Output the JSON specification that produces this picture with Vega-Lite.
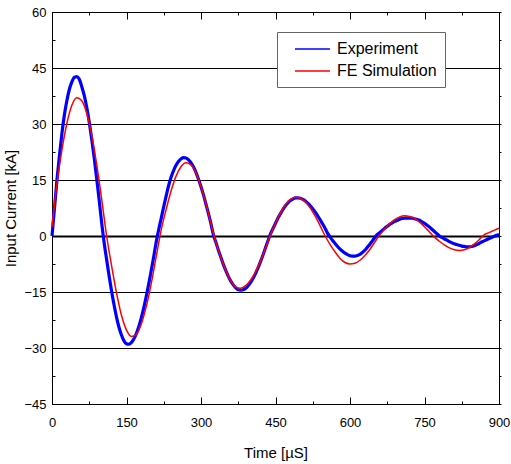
{
  "$schema": "https://vega.github.io/schema/vega-lite/v6.json",
  "width": 447,
  "height": 392,
  "autosize": {"type": "none"},
  "padding": {"left": 52, "top": 12, "right": 12, "bottom": 60},
  "background": "white",
  "config": {
    "view": {"stroke": "black", "strokeWidth": 1},
    "font": "Liberation Sans",
    "axis": {
      "labelFont": "Liberation Sans",
      "labelFontSize": 13,
      "labelColor": "black",
      "labelFlush": false,
      "titleFont": "Liberation Sans",
      "titleFontSize": 15,
      "titleFontWeight": "normal",
      "titleColor": "black",
      "domainColor": "black",
      "domainWidth": 1,
      "tickColor": "black",
      "gridColor": "black"
    },
    "legend": {
      "labelFont": "Liberation Sans",
      "labelFontSize": 16,
      "labelColor": "black"
    }
  },
  "datasets": {
    "exp": [
      {"t":0,"I":0},{"t":5,"I":7.5},{"t":10,"I":15},{"t":15,"I":21.5},{"t":20,"I":27.5},{"t":25,"I":32.5},{"t":30,"I":36.3},{"t":35,"I":39.3},{"t":40,"I":41.3},{"t":45,"I":42.5},{"t":50,"I":42.7},{"t":55,"I":42.0},{"t":60,"I":40.0},{"t":65,"I":37.6},{"t":70,"I":34.4},{"t":75,"I":30.5},{"t":80,"I":25.9},{"t":85,"I":20.9},{"t":90,"I":15.4},{"t":95,"I":9.6},{"t":100,"I":3.6},
      {"t":105,"I":-1.8},{"t":110,"I":-6.3},{"t":115,"I":-10.7},{"t":120,"I":-14.8},{"t":125,"I":-18.5},{"t":130,"I":-21.8},{"t":135,"I":-24.5},{"t":140,"I":-26.6},{"t":145,"I":-28.1},{"t":150,"I":-28.9},{"t":155,"I":-29.0},{"t":160,"I":-28.5},{"t":165,"I":-27.5},{"t":170,"I":-26.1},{"t":175,"I":-24.2},{"t":180,"I":-21.8},{"t":185,"I":-19.1},{"t":190,"I":-16.0},{"t":195,"I":-12.7},{"t":200,"I":-9.1},
      {"t":205,"I":-5.4},{"t":210,"I":-1.5},{"t":215,"I":1.8},{"t":220,"I":4.8},{"t":225,"I":7.9},{"t":230,"I":10.8},{"t":235,"I":13.6},{"t":240,"I":15.9},{"t":245,"I":17.6},{"t":250,"I":19.0},{"t":255,"I":20.0},{"t":260,"I":20.7},{"t":265,"I":21.0},{"t":270,"I":20.9},{"t":275,"I":20.4},{"t":280,"I":19.6},{"t":285,"I":18.5},{"t":290,"I":17.0},{"t":295,"I":15.2},{"t":300,"I":13.2},
      {"t":305,"I":11.0},{"t":310,"I":8.5},{"t":315,"I":6.0},{"t":320,"I":3.3},{"t":325,"I":0.3},{"t":330,"I":-1.7},{"t":335,"I":-3.8},{"t":340,"I":-5.7},{"t":345,"I":-7.6},{"t":350,"I":-9.3},{"t":355,"I":-10.8},{"t":360,"I":-12.1},{"t":365,"I":-13.1},{"t":370,"I":-13.9},{"t":375,"I":-14.4},{"t":380,"I":-14.5},{"t":385,"I":-14.4},{"t":390,"I":-14.0},{"t":395,"I":-13.3},{"t":400,"I":-12.4},
      {"t":405,"I":-11.3},{"t":410,"I":-10.0},{"t":415,"I":-8.5},{"t":420,"I":-6.8},{"t":425,"I":-5.0},{"t":430,"I":-3.1},{"t":435,"I":-1.2},{"t":440,"I":0.6},{"t":445,"I":2.0},{"t":450,"I":3.4},{"t":455,"I":4.8},{"t":460,"I":6.0},{"t":465,"I":7.1},{"t":470,"I":8.1},{"t":475,"I":8.9},{"t":480,"I":9.5},{"t":485,"I":9.9},{"t":490,"I":10.2},{"t":495,"I":10.2},{"t":500,"I":10.1},
      {"t":505,"I":9.8},{"t":510,"I":9.4},{"t":515,"I":8.8},{"t":520,"I":8.1},{"t":525,"I":7.3},{"t":530,"I":6.4},{"t":535,"I":5.4},{"t":540,"I":4.3},{"t":545,"I":3.2},{"t":550,"I":2.0},{"t":555,"I":0.7},{"t":560,"I":-0.3},{"t":565,"I":-1.2},{"t":570,"I":-2.0},{"t":575,"I":-2.8},{"t":580,"I":-3.5},{"t":585,"I":-4.1},{"t":590,"I":-4.6},{"t":595,"I":-5.0},{"t":600,"I":-5.3},
      {"t":605,"I":-5.4},{"t":610,"I":-5.4},{"t":615,"I":-5.2},{"t":620,"I":-4.9},{"t":625,"I":-4.4},{"t":630,"I":-3.8},{"t":635,"I":-3.0},{"t":640,"I":-2.2},{"t":645,"I":-1.3},{"t":650,"I":-0.4},{"t":655,"I":0.4},{"t":660,"I":0.9},{"t":665,"I":1.5},{"t":670,"I":2.1},{"t":675,"I":2.6},{"t":680,"I":3.1},{"t":685,"I":3.5},{"t":690,"I":3.9},{"t":695,"I":4.2},{"t":700,"I":4.5},
      {"t":705,"I":4.7},{"t":710,"I":4.8},{"t":715,"I":4.8},{"t":720,"I":4.8},{"t":725,"I":4.8},{"t":730,"I":4.6},{"t":735,"I":4.4},{"t":740,"I":4.2},{"t":745,"I":3.8},{"t":750,"I":3.4},{"t":755,"I":2.9},{"t":760,"I":2.4},{"t":765,"I":1.8},{"t":770,"I":1.2},{"t":775,"I":0.6},{"t":780,"I":0.0},{"t":785,"I":-0.4},{"t":790,"I":-0.8},{"t":795,"I":-1.1},{"t":800,"I":-1.5},
      {"t":805,"I":-1.8},{"t":810,"I":-2.1},{"t":815,"I":-2.3},{"t":820,"I":-2.5},{"t":825,"I":-2.7},{"t":830,"I":-2.8},{"t":835,"I":-2.9},{"t":840,"I":-2.9},{"t":845,"I":-2.8},{"t":850,"I":-2.6},{"t":855,"I":-2.3},{"t":860,"I":-2.0},{"t":865,"I":-1.6},{"t":870,"I":-1.3},{"t":875,"I":-1.0},{"t":880,"I":-0.7},{"t":885,"I":-0.4},{"t":890,"I":-0.1},{"t":895,"I":0.2},{"t":900,"I":0.4}
    ],
    "sim": [
      {"t":0,"I":2.5},{"t":5,"I":8.5},{"t":10,"I":14.2},{"t":20,"I":23.1},{"t":30,"I":30.2},{"t":40,"I":35.0},{"t":50,"I":37.0},{"t":60,"I":36.2},{"t":70,"I":32.8},{"t":80,"I":27.0},{"t":90,"I":19.1},{"t":100,"I":9.9},
      {"t":110,"I":0},{"t":120,"I":-8.0},{"t":130,"I":-15.3},{"t":140,"I":-21.3},{"t":150,"I":-25.2},{"t":160,"I":-26.9},{"t":170,"I":-26.3},{"t":180,"I":-23.5},{"t":190,"I":-18.8},{"t":200,"I":-12.6},
      {"t":210,"I":-5.4},{"t":220,"I":1.7},{"t":230,"I":7.2},{"t":240,"I":12.2},{"t":250,"I":16.1},{"t":260,"I":18.6},{"t":270,"I":19.6},{"t":280,"I":19.0},{"t":290,"I":16.8},{"t":300,"I":13.2},
      {"t":310,"I":8.6},{"t":320,"I":3.3},{"t":330,"I":-1.7},{"t":340,"I":-5.7},{"t":350,"I":-9.3},{"t":360,"I":-12.0},{"t":370,"I":-13.6},{"t":380,"I":-14.0},{"t":390,"I":-13.3},{"t":400,"I":-11.8},
      {"t":410,"I":-9.5},{"t":420,"I":-6.6},{"t":430,"I":-3.2},{"t":440,"I":0.3},{"t":450,"I":3.4},{"t":460,"I":6.2},{"t":470,"I":8.4},{"t":480,"I":9.8},{"t":490,"I":10.4},{"t":500,"I":10.1},
      {"t":510,"I":9.1},{"t":520,"I":7.5},{"t":530,"I":5.3},{"t":540,"I":2.7},{"t":550,"I":0},{"t":560,"I":-2.3},{"t":570,"I":-4.3},{"t":580,"I":-6.0},{"t":590,"I":-7.1},{"t":600,"I":-7.5},
      {"t":610,"I":-7.3},{"t":620,"I":-6.5},{"t":630,"I":-5.2},{"t":640,"I":-3.6},{"t":650,"I":-1.6},{"t":660,"I":0.3},{"t":670,"I":1.9},{"t":680,"I":3.3},{"t":690,"I":4.4},{"t":700,"I":5.1},
      {"t":710,"I":5.4},{"t":720,"I":5.2},{"t":730,"I":4.7},{"t":740,"I":3.7},{"t":750,"I":2.5},{"t":760,"I":1.1},{"t":770,"I":-0.3},{"t":780,"I":-1.4},{"t":790,"I":-2.4},{"t":800,"I":-3.2},
      {"t":810,"I":-3.7},{"t":820,"I":-3.9},{"t":830,"I":-3.7},{"t":840,"I":-3.1},{"t":850,"I":-2.2},{"t":860,"I":-1.0},{"t":870,"I":0.3},{"t":880,"I":0.9},{"t":890,"I":1.5},{"t":900,"I":2.1}
    ]
  },
  "layer": [
    {
      "data": {"name": "exp"},
      "mark": {"type": "line", "strokeWidth": 3.2, "interpolate": "monotone"},
      "encoding": {
        "x": {
          "field": "t", "type": "quantitative",
          "scale": {"domain": [0, 900], "nice": false},
          "axis": {
            "orient": "bottom",
            "title": "Time [µS]",
            "values": [0,75,150,225,300,375,450,525,600,675,750,825,900],
            "labelExpr": "datum.value % 150 === 0 ? datum.label : ''",
            "tickSize": {"condition": {"test": "datum.value % 150 === 0", "value": -7}, "value": -3},
            "labelPadding": 19,
            "titlePadding": 16,
            "grid": false
          }
        },
        "y": {
          "field": "I", "type": "quantitative",
          "scale": {"domain": [-45, 60], "nice": false},
          "axis": {
            "orient": "left",
            "title": "Input Current [kA]",
            "values": [-45,-37.5,-30,-22.5,-15,-7.5,0,7.5,15,22.5,30,37.5,45,52.5,60],
            "labelExpr": "datum.value % 15 === 0 ? datum.label : ''",
            "tickSize": -3,
            "labelPadding": 9,
            "titlePadding": 5,
            "grid": true,
            "gridOpacity": {"condition": {"test": "datum.value % 15 === 0", "value": 1}, "value": 0},
            "gridWidth": {"condition": {"test": "datum.value === 0", "value": 2}, "value": 1}
          }
        },
        "color": {
          "datum": "Experiment",
          "type": "nominal",
          "scale": {"domain": ["Experiment", "FE Simulation"], "range": ["#0000ff", "#ff0000"]},
          "legend": {
            "orient": "none",
            "legendX": 225,
            "legendY": 20,
            "title": null,
            "fillColor": "white",
            "strokeColor": "#666666",
            "padding": 8,
            "symbolOffset": 18.5,
            "symbolType": "M-2.1875,0H2.1875",
            "symbolSize": 256,
            "symbolStrokeWidth": 1.5,
            "labelOffset": 15.5,
            "rowPadding": 5
          }
        }
      }
    },
    {
      "data": {"name": "sim"},
      "mark": {"type": "line", "strokeWidth": 1.5, "interpolate": "monotone"},
      "encoding": {
        "x": {
          "field": "t", "type": "quantitative",
          "scale": {"domain": [0, 900], "nice": false},
          "axis": {
            "orient": "top",
            "title": null,
            "labels": false,
            "values": [0,75,150,225,300,375,450,525,600,675,750,825,900],
            "tickSize": {"condition": {"test": "datum.value % 150 === 0", "value": -7}, "value": -3},
            "grid": false
          }
        },
        "y": {
          "field": "I", "type": "quantitative",
          "scale": {"domain": [-45, 60], "nice": false},
          "axis": {
            "orient": "right",
            "title": null,
            "labels": false,
            "values": [-45,-37.5,-30,-22.5,-15,-7.5,0,7.5,15,22.5,30,37.5,45,52.5,60],
            "tickSize": 2,
            "grid": false
          }
        },
        "color": {"datum": "FE Simulation", "type": "nominal"}
      }
    }
  ],
  "resolve": {"axis": {"x": "independent", "y": "independent"}}
}
